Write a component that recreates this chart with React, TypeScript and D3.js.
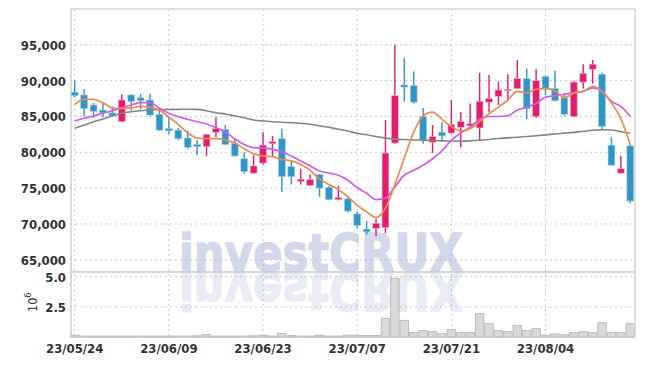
import React from "react";
import * as d3 from "d3";

const dates = [
  "23/05/24","23/05/25","23/05/26","23/05/30","23/05/31","23/06/01","23/06/02","23/06/05","23/06/07","23/06/08",
  "23/06/09","23/06/12","23/06/13","23/06/14","23/06/15","23/06/16","23/06/19","23/06/20","23/06/21","23/06/22",
  "23/06/23","23/06/26","23/06/27","23/06/28","23/06/29","23/06/30","23/07/03","23/07/04","23/07/05","23/07/06",
  "23/07/07","23/07/10","23/07/11","23/07/12","23/07/13","23/07/14","23/07/17","23/07/18","23/07/19","23/07/20",
  "23/07/21","23/07/24","23/07/25","23/07/26","23/07/27","23/07/28","23/07/31","23/08/01","23/08/02","23/08/03",
  "23/08/04","23/08/07","23/08/08","23/08/09","23/08/10","23/08/11","23/08/14","23/08/16","23/08/17","23/08/18",
];

const openP = [
  88400,88000,86600,85900,85500,84300,88000,87600,87300,85300,
  83300,83100,82000,81100,80800,82800,83200,81200,79100,77100,
  78500,81200,81900,78000,75950,75400,76900,75100,73400,73500,
  71400,69300,69400,69500,81300,89400,89300,85000,81400,82800,
  82700,83500,83700,83400,87000,87800,88600,88900,90300,85000,
  90600,88900,87600,85000,89800,91600,90900,81000,77100,80900,
];
const closeP = [
  87900,86100,85700,85500,85100,87300,87100,87200,85200,83100,
  83000,81900,80700,80800,82500,83300,81100,79500,77300,78100,
  81000,81500,76600,76600,76250,76200,75000,73400,73700,71800,
  69800,68900,70100,79900,87900,89100,87000,81700,82200,82300,
  83900,84300,84000,87100,87500,88700,88800,90300,86100,90000,
  88900,87200,85300,89800,91000,92300,83600,78200,77700,73200,
];
const highP = [
  90000,88800,86900,87000,86400,88100,88100,88100,88200,85900,
  84800,83400,83000,81700,82600,84900,83800,81900,80000,79600,
  82800,82300,83300,78800,77700,76900,76900,75300,75300,73800,
  71700,70400,70700,84500,95000,93200,91300,86200,83800,84200,
  87300,85600,86800,91100,90800,89900,90900,92900,91700,91600,
  90700,91400,88300,90000,92300,92900,91100,82100,79500,81100,
];
const lowP = [
  87700,85000,84800,84900,85000,84200,85800,86000,85100,83000,
  82500,81700,80500,79600,79500,82100,81000,79400,77000,77000,
  78300,79400,74500,75500,75500,75300,73800,73300,73300,71600,
  69400,68500,68300,68700,81200,87100,86800,81200,79900,81700,
  82600,80700,83500,81700,85600,86600,87300,88900,84600,84800,
  88000,87100,85100,84900,88900,89600,83100,78200,77000,72900,
];
// volume in millions
const volume = [
  0.15,0.08,0.08,0.08,0.08,0.08,0.08,0.08,0.08,0.08,
  0.08,0.08,0.08,0.1,0.2,0.08,0.08,0.08,0.08,0.1,
  0.15,0.08,0.3,0.12,0.08,0.08,0.15,0.08,0.08,0.15,
  0.15,0.12,0.12,1.55,4.88,1.38,0.36,0.53,0.44,0.28,
  0.61,0.36,0.36,1.94,1.11,0.53,0.44,0.97,0.53,0.69,
  0.14,0.25,0.19,0.36,0.44,0.36,1.19,0.36,0.36,1.11,
];
const ma5 = [
  86700,87400,87400,86900,86200,86100,86200,86400,86300,85900,
  84900,83900,82700,82000,81900,81900,81700,81300,80500,79800,
  79500,79400,79000,78800,78300,77500,76300,75500,74800,73800,
  72600,71700,70900,72200,75500,79200,82800,85100,85600,84600,
  83600,83000,83300,84300,85400,86300,87300,88500,88300,88800,
  88900,88600,87600,88300,88500,89200,88500,86900,84700,81000,
];
const ma10 = [
  84370,84750,85070,85450,85810,86230,86610,86930,86930,86150,
  85450,84970,84610,84270,83950,83450,82850,81850,81100,80650,
  80600,80450,80050,79500,78800,78100,77400,77100,76800,76100,
  75100,74300,73400,73600,75200,76800,77500,78200,79100,80200,
  81700,82700,83500,84600,85000,85000,85100,85900,86300,86800,
  87700,87900,88100,88300,88500,89000,88500,87100,86400,85000,
];
const maLong = [
  83350,83810,84270,84650,85070,85450,85670,85810,85910,85950,
  86000,86000,86020,86000,85810,85530,85350,85070,84830,84510,
  84370,84270,84190,84130,84050,83910,83710,83490,83210,82970,
  82650,82450,82200,81980,81840,81780,81730,81700,81650,81600,
  81570,81560,81600,81680,81800,81920,82020,82100,82200,82320,
  82440,82560,82680,82790,82930,83070,83160,83110,82880,82650,
];
const priceTicks = [65000, 70000, 75000, 80000, 85000, 90000, 95000];
const volTicks = [2.5, 5.0];
const tickDates = ["23/05/24", "23/06/09", "23/06/23", "23/07/07", "23/07/21", "23/08/04"];

const W = 645, H = 366;
const L = 70, R = 635, PT = 9, PB = 272, VB = 337;
const FONT = "'DejaVu Sans Condensed', 'Liberation Sans Narrow', sans-serif";
const RED = "#e31c6c", BLUE = "#2f96c8";
const GRID = "#c4c8dc";
const WM_FONT = "'DejaVu Sans', 'Liberation Sans', sans-serif";

export default function App() {
  const idx = dates.map((_, i) => i);
  const x = d3.scaleBand<number>().domain(idx).range([L, R]).padding(0);
  const step = x.step();
  const cx = (i: number) => (x(i) as number) + step / 2;
  const y = d3.scaleLinear().domain([63300, 100000]).range([PB, PT]);
  const yv = d3.scaleLinear().domain([0, 5.4]).range([VB, PB]);
  const fmt = d3.format(",");
  const line = (arr: number[]) =>
    d3.line<number>().x((_, i) => cx(i)).y((v) => y(v)).curve(d3.curveMonotoneX)(arr) || "";
  const bw = step * 0.72;

  return (
    <svg width={W} height={H} style={{ position: "absolute", left: 0, top: 0, background: "#fff" }}
      xmlns="http://www.w3.org/2000/svg">
      <defs>
        <clipPath id="volclip"><rect x={L} y={PB} width={R - L} height={VB - PB} /></clipPath>
        <clipPath id="priceclip"><rect x={L} y={PT} width={R - L} height={PB - PT} /></clipPath>
      </defs>
      <rect x={0} y={0} width={W} height={H} fill="#fff" />
      {/* grid */}
      {priceTicks.map((t) => (
        <line key={"g" + t} x1={L} x2={R} y1={y(t)} y2={y(t)} stroke={GRID} strokeWidth={1} strokeDasharray="2,3" />
      ))}
      {volTicks.map((t) => (
        <line key={"gv" + t} x1={L} x2={R} y1={yv(t)} y2={yv(t)} stroke={GRID} strokeWidth={1} strokeDasharray="2,3" />
      ))}
      {tickDates.map((d) => {
        const i = dates.indexOf(d);
        return <line key={"gx" + d} x1={cx(i)} x2={cx(i)} y1={PT} y2={VB} stroke={GRID} strokeWidth={1} strokeDasharray="2,3" />;
      })}
      {/* volume bars */}
      {volume.map((v, i) => (
        <rect key={"v" + i} x={(x(i) as number) + 0.5} y={yv(v)} width={step - 1} height={VB - yv(v)}
          fill="#d9d9d9" stroke="#bcbcbc" strokeWidth={1} />
      ))}
      {/* watermark */}
      <text x={179} y={271} fontFamily={WM_FONT} fontWeight="bold" fontSize={52}
        textLength={284} lengthAdjust="spacingAndGlyphs" fill="#a9b5d8" stroke="#a9b5d8" strokeWidth={1.5}
        opacity={0.5}>investCRUX</text>
      <g clipPath="url(#volclip)">
        <g transform={`translate(0, ${2 * 272}) scale(1,-1)`}>
          <text x={179} y={271} fontFamily={WM_FONT} fontWeight="bold" fontSize={52}
            textLength={284} lengthAdjust="spacingAndGlyphs" fill="#a9b5d8" stroke="#a9b5d8" strokeWidth={1.5}
            opacity={0.25}>investCRUX</text>
        </g>
      </g>
      {/* frame */}
      <line x1={L} x2={R} y1={PT} y2={PT} stroke="#d4d4d4" strokeWidth={1.5} />
      <line x1={R} x2={R} y1={PT} y2={VB} stroke="#d4d4d4" strokeWidth={1.5} />
      <line x1={L} x2={R} y1={PB} y2={PB} stroke="#c8c8c8" strokeWidth={1.5} />
      <line x1={L} x2={R} y1={VB} y2={VB} stroke="#c8c8c8" strokeWidth={1.5} />
      <line x1={L + 1} x2={L + 1} y1={PT} y2={VB} stroke="#cfcfcf" strokeWidth={1.5} />
      {/* candles */}
      <g clipPath="url(#priceclip)">
        {idx.map((i) => {
          const up = closeP[i] >= openP[i];
          const c = up ? RED : BLUE;
          const top = y(Math.max(openP[i], closeP[i]));
          const bot = y(Math.min(openP[i], closeP[i]));
          const h = Math.max(bot - top, 1.5);
          return (
            <g key={"c" + i}>
              <line x1={cx(i)} x2={cx(i)} y1={y(highP[i])} y2={y(lowP[i])} stroke={c} strokeWidth={1.4} />
              <rect x={cx(i) - bw / 2} y={top} width={bw} height={h} fill={c}
                stroke={up ? "#f4a9c6" : "#9fcbe3"} strokeWidth={0.6} />
            </g>
          );
        })}
        <path d={line(maLong)} fill="none" stroke="#858585" strokeWidth={1.6} />
        <path d={line(ma10)} fill="none" stroke="#d05de9" strokeWidth={1.7} />
        <path d={line(ma5)} fill="none" stroke="#ee8a50" strokeWidth={1.7} />
      </g>
      {/* axis labels */}
      {priceTicks.map((t) => (
        <text key={"t" + t} x={66} y={y(t) + 5} textAnchor="end" fontFamily={FONT} fontWeight="bold" fontSize={13}
          fill="#333">{fmt(t)}</text>
      ))}
      {volTicks.map((t) => (
        <text key={"tv" + t} x={66} y={yv(t) + 5} textAnchor="end" fontFamily={FONT} fontWeight="bold" fontSize={13}
          fill="#333">{t.toFixed(1)}</text>
      ))}
      <text transform="translate(37, 312) rotate(-90)" fontFamily={FONT} fontSize={12.5} fill="#333">
        10<tspan dy={-6} fontSize={9}>6</tspan>
      </text>
      {tickDates.map((d) => {
        const i = dates.indexOf(d);
        return (
          <text key={"tx" + d} x={cx(i)} y={353} textAnchor="middle" fontFamily={FONT} fontWeight="bold" fontSize={13}
            fill="#333">{d}</text>
        );
      })}
    </svg>
  );
}
